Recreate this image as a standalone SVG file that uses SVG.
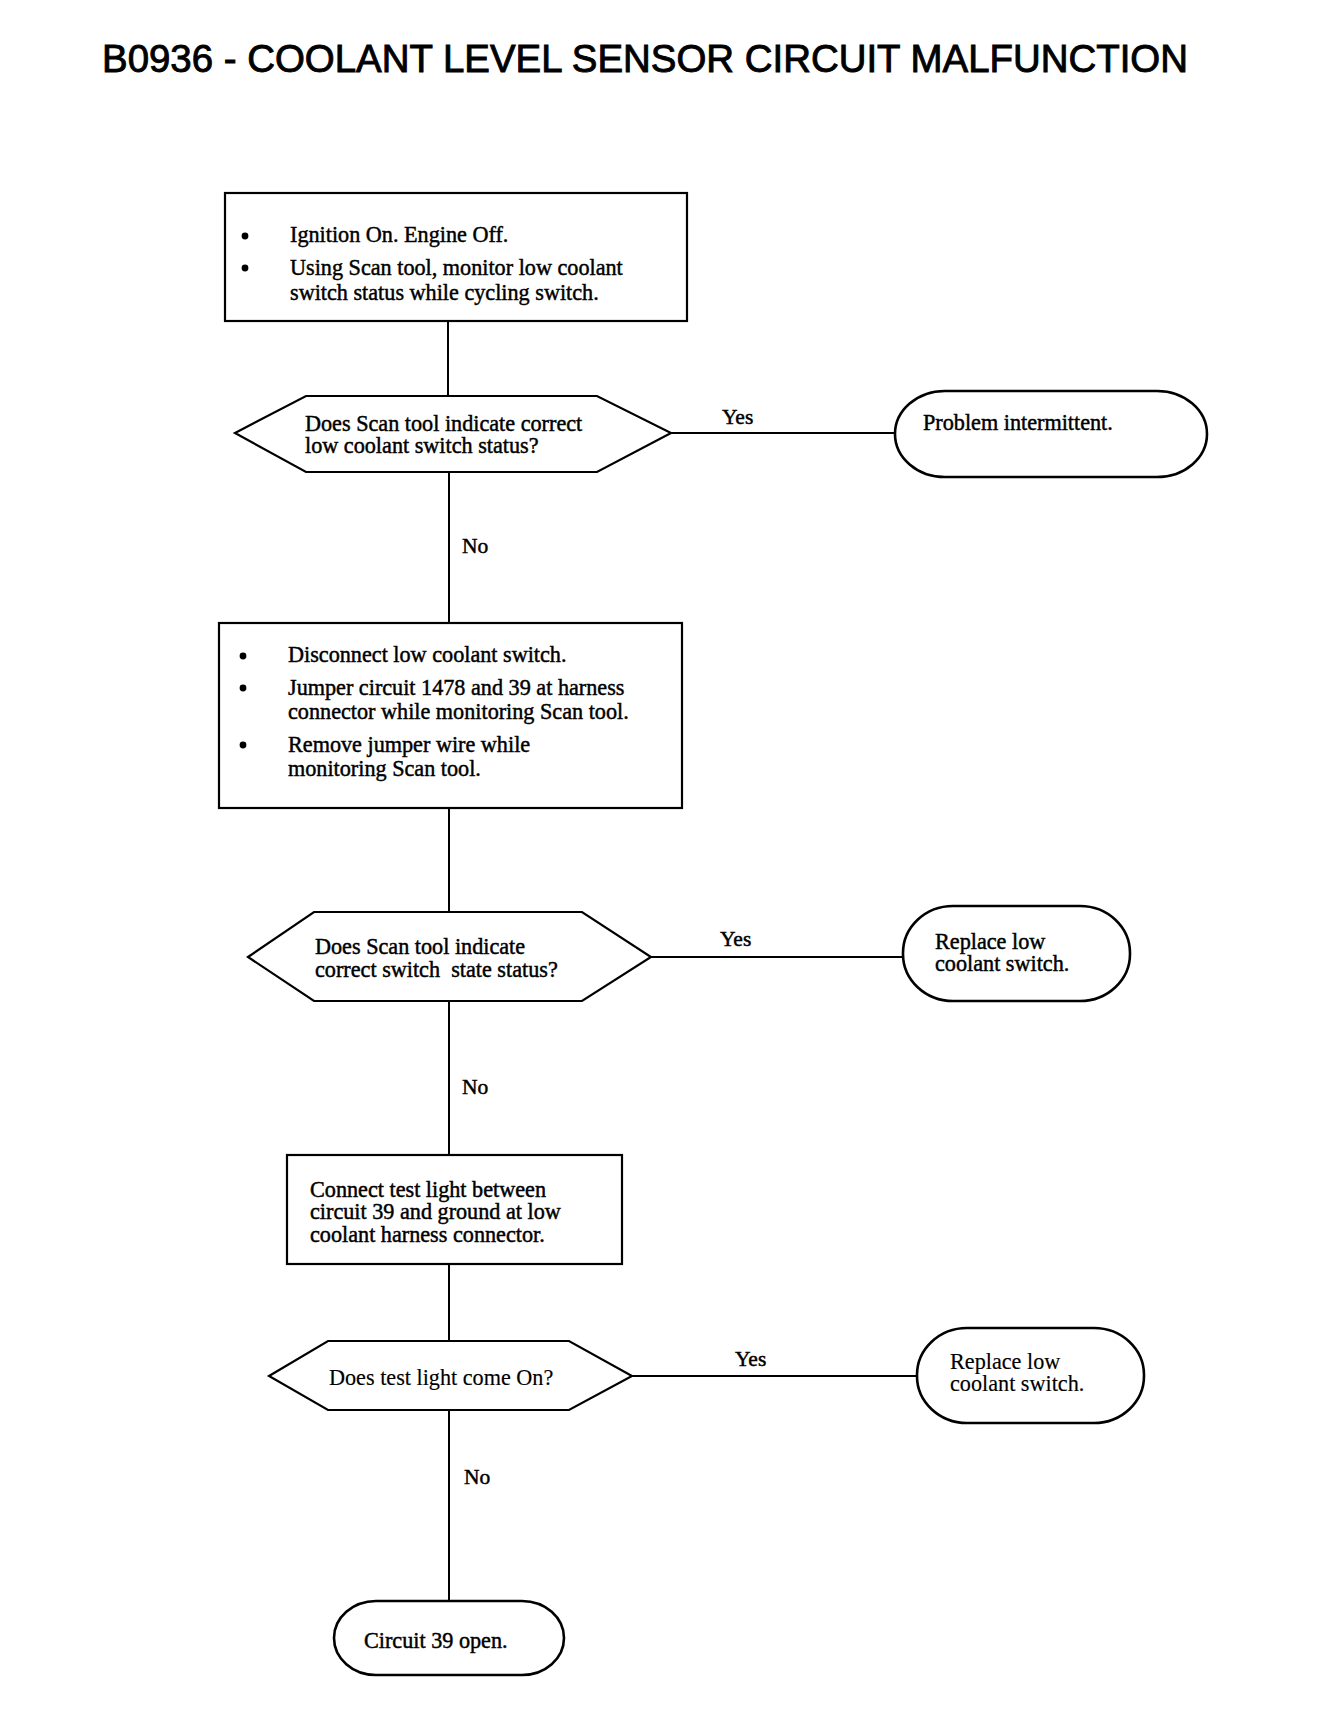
<svg xmlns="http://www.w3.org/2000/svg" width="1344" height="1716" viewBox="0 0 1344 1716">
<style>
.bg{fill:#fff}
.box{fill:#fff;stroke:#000;stroke-width:2.2}
.term{fill:#fff;stroke:#000;stroke-width:2.6}
.line{fill:none;stroke:#000;stroke-width:2}
.t{font-family:"Liberation Serif","Times New Roman",serif;font-size:22.2px;fill:#000;stroke:#000;stroke-width:0.45}
.thin{stroke-width:0.15}
.lbl{font-family:"Liberation Serif","Times New Roman",serif;font-size:21.5px;fill:#000;stroke:#000;stroke-width:0.45}
.title{font-family:"Liberation Sans",Arial,sans-serif;font-size:38.5px;fill:#000;stroke:#000;stroke-width:0.9}
</style>
<rect class="bg" x="0" y="0" width="1344" height="1716"/>
<text class="title" x="102" y="72" textLength="1086" lengthAdjust="spacingAndGlyphs">B0936 - COOLANT LEVEL SENSOR CIRCUIT MALFUNCTION</text>

<g id="connectors">
<line class="line" x1="448" y1="321" x2="448" y2="396"/>
<line class="line" x1="671" y1="433" x2="895" y2="433"/>
<line class="line" x1="449" y1="472" x2="449" y2="623"/>
<line class="line" x1="449" y1="808" x2="449" y2="912"/>
<line class="line" x1="651" y1="957" x2="903" y2="957"/>
<line class="line" x1="449" y1="1001" x2="449" y2="1155"/>
<line class="line" x1="449" y1="1264" x2="449" y2="1341"/>
<line class="line" x1="632" y1="1376" x2="917" y2="1376"/>
<line class="line" x1="449" y1="1410" x2="449" y2="1601"/>
<text class="lbl" x="722" y="424">Yes</text>
<text class="lbl" x="462" y="553">No</text>
<text class="lbl" x="720" y="946">Yes</text>
<text class="lbl" x="462" y="1094">No</text>
<text class="lbl thin" x="735" y="1366">Yes</text>
<text class="lbl thin" x="464" y="1484">No</text>
</g>

<g id="step1">
<rect class="box" x="225" y="193" width="462" height="128"/>
<circle cx="245" cy="236" r="3.4"/>
<circle cx="245" cy="268" r="3.4"/>
<text class="t" x="290" y="242">Ignition On. Engine Off.</text>
<text class="t" x="290" y="275">Using Scan tool, monitor low coolant</text>
<text class="t" x="290" y="300">switch status while cycling switch.</text>
</g>

<g id="decision1">
<polygon class="box" points="235,433 306,396 597,396 671,433 597,472 306,472"/>
<text class="t" x="305" y="431">Does Scan tool indicate correct</text>
<text class="t" x="305" y="453">low coolant switch status?</text>
</g>

<g id="end1">
<rect class="term" x="895" y="391" width="312" height="86" rx="50" ry="43"/>
<text class="t" x="923" y="430">Problem intermittent.</text>
</g>

<g id="step2">
<rect class="box" x="219" y="623" width="463" height="185"/>
<circle cx="243" cy="656" r="3.4"/>
<circle cx="243" cy="688" r="3.4"/>
<circle cx="243" cy="745" r="3.4"/>
<text class="t" x="288" y="662">Disconnect low coolant switch.</text>
<text class="t" x="288" y="695">Jumper circuit 1478 and 39 at harness</text>
<text class="t" x="288" y="719">connector while monitoring Scan tool.</text>
<text class="t" x="288" y="752">Remove jumper wire while</text>
<text class="t" x="288" y="776">monitoring Scan tool.</text>
</g>

<g id="decision2">
<polygon class="box" points="248,957 314,912 582,912 651,957 582,1001 314,1001"/>
<text class="t" x="315" y="954">Does Scan tool indicate</text>
<text class="t" x="315" y="977" xml:space="preserve">correct switch  state status?</text>
</g>

<g id="end2">
<rect class="term" x="903" y="906" width="227" height="95" rx="50" ry="47"/>
<text class="t" x="935" y="949">Replace low</text>
<text class="t" x="935" y="971">coolant switch.</text>
</g>

<g id="step3">
<rect class="box" x="287" y="1155" width="335" height="109"/>
<text class="t" x="310" y="1197">Connect test light between</text>
<text class="t" x="310" y="1219">circuit 39 and ground at low</text>
<text class="t" x="310" y="1242">coolant harness connector.</text>
</g>

<g id="decision3">
<polygon class="box" points="269,1376 328,1341 569,1341 632,1376 569,1410 328,1410"/>
<text class="t thin" x="329" y="1385">Does test light come On?</text>
</g>

<g id="end3">
<rect class="term" x="917" y="1328" width="227" height="95" rx="50" ry="47"/>
<text class="t thin" x="950" y="1369">Replace low</text>
<text class="t thin" x="950" y="1391">coolant switch.</text>
</g>

<g id="end4">
<rect class="term" x="334" y="1601" width="230" height="74" rx="42" ry="37"/>
<text class="t" x="364" y="1648">Circuit 39 open.</text>
</g>
</svg>
